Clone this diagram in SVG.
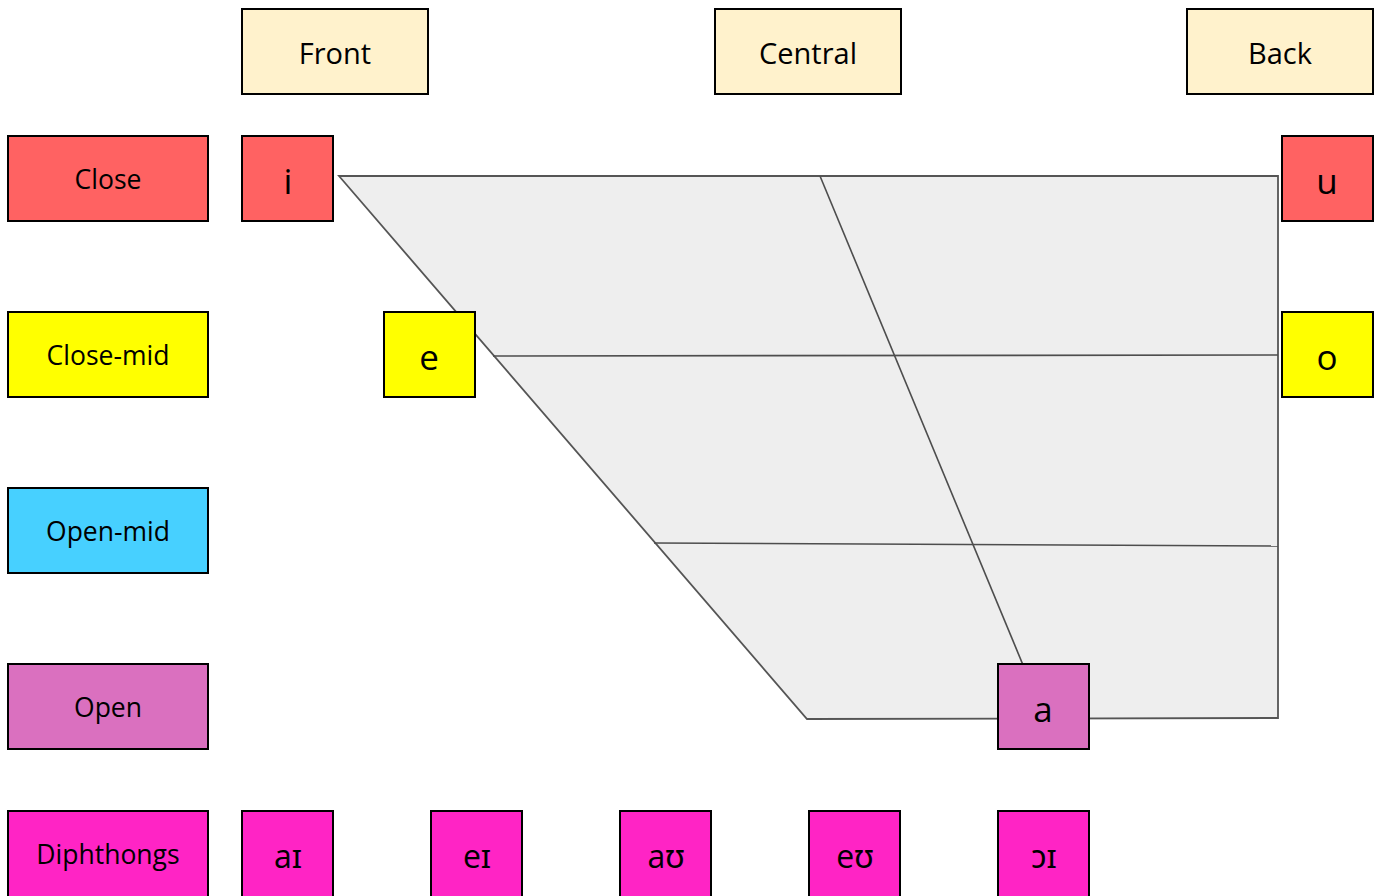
<svg xmlns="http://www.w3.org/2000/svg" width="1377" height="896" viewBox="0 0 1377 896">
<style>
  .b { stroke: #000; stroke-width: 2; }
  text { font-family: "Open Sans", "Noto Sans", "DejaVu Sans", sans-serif; fill: #000; text-anchor: middle; dominant-baseline: central; }
  .hdr { font-size: 29px; }
  .lbl { font-size: 26.5px; }
  .v { font-size: 35px; }
  .d { font-size: 32px; }
  .col { fill: #fff2cc; }
  .close { fill: #ff6262; }
  .cmid { fill: #ffff00; }
  .omid { fill: #47d0ff; }
  .open { fill: #da70bf; }
  .diph { fill: #ff24c5; }
  .grid { stroke: #4d4d4d; stroke-width: 1.6; fill: none; }
</style>
<rect width="1377" height="896" fill="#fff"/>
<g id="chart">
  <polygon points="339,176 1278,176 1278,718 807,719" fill="#eeeeee" stroke="#555" stroke-width="1.8"/>
</g>
<g id="connectors">
  <line class="grid" x1="493" y1="356" x2="1278" y2="355"/>
  <line class="grid" x1="654" y1="543" x2="1278" y2="546"/>
  <line class="grid" x1="820" y1="176" x2="1045" y2="718"/>
</g>
<g id="front"><rect class="b col" x="242" y="9" width="186" height="85"/><text class="hdr" x="335" y="52">Front</text></g>
<g id="central"><rect class="b col" x="715" y="9" width="186" height="85"/><text class="hdr" x="808" y="52">Central</text></g>
<g id="back"><rect class="b col" x="1187" y="9" width="186" height="85"/><text class="hdr" x="1280" y="52">Back</text></g>

<g id="row-close"><rect class="b close" x="8" y="136" width="200" height="85"/><text class="lbl" x="108" y="179">Close</text></g>
<g id="row-closemid"><rect class="b cmid" x="8" y="312" width="200" height="85"/><text class="lbl" x="108" y="355">Close-mid</text></g>
<g id="row-openmid"><rect class="b omid" x="8" y="488" width="200" height="85"/><text class="lbl" x="108" y="531">Open-mid</text></g>
<g id="row-open"><rect class="b open" x="8" y="664" width="200" height="85"/><text class="lbl" x="108" y="707">Open</text></g>
<g id="row-diph"><rect class="b diph" x="8" y="811" width="200" height="86"/><text class="lbl" x="108" y="854">Diphthongs</text></g>

<g id="v-i"><rect class="b close" x="242" y="136" width="91" height="85"/><text class="v" x="288" y="180">i</text></g>
<g id="v-u"><rect class="b close" x="1282" y="136" width="91" height="85"/><text class="v" x="1327" y="180">u</text></g>
<g id="v-e"><rect class="b cmid" x="384" y="312" width="91" height="85"/><text class="v" x="429" y="356">e</text></g>
<g id="v-o"><rect class="b cmid" x="1282" y="312" width="91" height="85"/><text class="v" x="1327" y="356">o</text></g>
<g id="v-a"><rect class="b open" x="998" y="664" width="91" height="85"/><text class="v" x="1043" y="708">a</text></g>

<g id="d-ai"><rect class="b diph" x="242" y="811" width="91" height="86"/><text class="d" x="288" y="855">aɪ</text></g>
<g id="d-ei"><rect class="b diph" x="431" y="811" width="91" height="86"/><text class="d" x="477" y="855">eɪ</text></g>
<g id="d-au"><rect class="b diph" x="620" y="811" width="91" height="86"/><text class="d" x="666" y="855">aʊ</text></g>
<g id="d-eu"><rect class="b diph" x="809" y="811" width="91" height="86"/><text class="d" x="855" y="855">eʊ</text></g>
<g id="d-oi"><rect class="b diph" x="998" y="811" width="91" height="86"/><text class="d" x="1044" y="855">ɔɪ</text></g>
</svg>
